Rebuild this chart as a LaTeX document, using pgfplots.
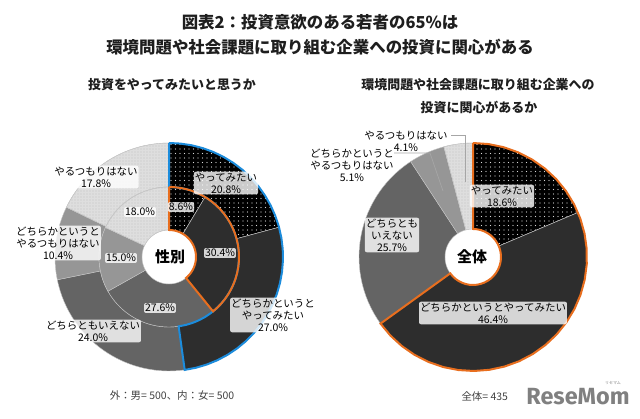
\documentclass[border=0pt]{standalone}
\usepackage{fontspec}
\setmainfont{Noto Sans CJK JP}
\newfontfamily\logofont{Fira Sans}
\usepackage{pgfplots}
\pgfplotsset{compat=1.18}
\usepackage{pgfplotstable}
\usetikzlibrary{patterns,patterns.meta}

\definecolor{cblue}{RGB}{28,140,220}
\definecolor{corange}{RGB}{232,110,30}
\definecolor{c1}{RGB}{45,45,45}
\definecolor{c2}{RGB}{100,100,100}
\definecolor{c3}{RGB}{150,150,150}
\definecolor{c4}{RGB}{222,222,222}
\definecolor{titlec}{RGB}{30,30,30}

% outer ring: male (n=500)
\pgfplotstableread{
val
20.8
27.0
24.0
10.4
17.8
}\tabMale
% inner ring: female (n=500)
\pgfplotstableread{
val
8.6
30.4
27.6
15.0
18.0
}\tabFemale
% right donut: total (n=435)
\pgfplotstableread{
val
18.6
46.4
25.7
5.1
4.1
}\tabTotal

\pgfplotsset{
  seg0/.style={fill=black, draw=gray!45, line width=0.4bp,
    postaction={pattern={Dots[distance=4.5bp,radius=0.6bp]}, pattern color=white!85!black}},
  seg1/.style={fill=c1, draw=gray!45, line width=0.4bp},
  seg2/.style={fill=c2, draw=gray!45, line width=0.4bp},
  seg3/.style={fill=c3, draw=gray!45, line width=0.4bp},
  seg4/.style={fill=c4, draw=gray!45, line width=0.4bp,
    postaction={pattern={Dots[distance=3bp,radius=0.45bp]}, pattern color=black!45}},
  olblue/.style={draw=cblue, line width=2bp, fill=none},
  olorange/.style={draw=corange, line width=2bp, fill=none},
}
\tikzset{
  lbl/.style={font=\fontsize{10.5}{12}\selectfont, align=center, fill=white,
    fill opacity=0.8, text opacity=1, inner sep=1bp, rounded corners=2bp},
}

% one annular sector: cx, cy, rin, rout, angle A, angle B, style
\newcommand\segpath[7]{%
  \addplot[#7, domain=0:4, samples=121]
   ({#1+sr(x,#3,#4)*cos(sa(x,#5,#6))},{#2+sr(x,#3,#4)*sin(sa(x,#5,#6))});
}
\newcommand\ringsum[1]{%
  \def\rtot{0}%
  \pgfplotsforeachungrouped \k in {0,1,2,3,4}{%
    \pgfplotstablegetelem{\k}{val}\of{#1}%
    \pgfmathsetmacro\rtot{\rtot+\pgfplotsretval}%
  }}
\newcommand\ring[5]{%
  \ringsum{#1}%
  \def\rcum{0}%
  \pgfplotsforeachungrouped \k in {0,1,2,3,4}{%
    \pgfplotstablegetelem{\k}{val}\of{#1}%
    \pgfmathsetmacro\rA{90-360*(\rcum/\rtot)}%
    \pgfmathsetmacro\rcum{\rcum+\pgfplotsretval}%
    \pgfmathsetmacro\rB{90-360*(\rcum/\rtot)}%
    \edef\segcmd{\noexpand\segpath{#2}{#3}{#4}{#5}{\rA}{\rB}{seg\k}}%
    \segcmd
  }}
\newcommand\outline[6]{%
  \ringsum{#1}%
  \pgfplotstablegetelem{0}{val}\of{#1}\let\vz\pgfplotsretval
  \pgfplotstablegetelem{1}{val}\of{#1}%
  \pgfmathsetmacro\rB{90-360*((\vz+\pgfplotsretval)/\rtot)}%
  \edef\segcmd{\noexpand\segpath{#2}{#3}{#4}{#5}{90}{\rB}{#6}}%
  \segcmd}

\begin{document}
\begin{tikzpicture}
\useasboundingbox (0,0) rectangle (640bp,419bp);
\begin{axis}[
  at={(0,0)}, anchor=south west,
  width=640bp, height=419bp, scale only axis,
  xmin=0, xmax=640, ymin=0, ymax=419,
  hide axis, clip=false,
  declare function={
    sa(\vq,\vA,\vB)=ifthenelse(\vq<1,\vA+(\vB-\vA)*\vq,ifthenelse(\vq<2,\vB,ifthenelse(\vq<3,\vB+(\vA-\vB)*(\vq-2),\vA)));
    sr(\vq,\vi,\vo)=ifthenelse(\vq<1,\vo,ifthenelse(\vq<2,\vo-(\vo-\vi)*(\vq-1),ifthenelse(\vq<3,\vi,\vi+(\vo-\vi)*(\vq-3))));
  },
]
% left donut
\ring{\tabMale}{169}{162}{70}{114}
\ring{\tabFemale}{169}{162}{27}{70}
\outline{\tabMale}{169}{162}{70}{114}{olblue}
\outline{\tabFemale}{169}{162}{27}{70}{olorange}
% right donut
\ring{\tabTotal}{473}{162}{28}{114}
\outline{\tabTotal}{473}{162}{28}{114}{olorange}

% leader lines
\addplot[gray!70, line width=0.7bp] coordinates {(451,284) (465,284) (465,237)};
\addplot[gray!70, line width=0.7bp] coordinates {(394,266) (430,266) (443,228)};

% titles
\node[font=\bfseries\fontsize{16.5}{18}\selectfont, text=titlec] at (320,397) {図表2：投資意欲のある若者の65\%は};
\node[font=\bfseries\fontsize{16.5}{18}\selectfont, text=titlec] at (320,372) {環境問題や社会課題に取り組む企業への投資に関心がある};
\node[font=\bfseries\fontsize{13}{15}\selectfont, text=titlec] at (172,334) {投資をやってみたいと思うか};
\node[font=\bfseries\fontsize{13}{15}\selectfont, text=titlec] at (478,334) {環境問題や社会課題に取り組む企業への};
\node[font=\bfseries\fontsize{13}{15}\selectfont, text=titlec] at (479,312) {投資に関心があるか};

% centre texts
\node[font=\bfseries\fontsize{15}{17}\selectfont] at (170,162) {性別};
\node[font=\bfseries\fontsize{15}{17}\selectfont] at (472,162) {全体};

% left labels (outer)
\node[lbl] at (226,236) {やってみたい\\20.8\%};
\node[lbl] at (273,104) {どちらかというと\\やってみたい\\27.0\%};
\node[lbl] at (93,88) {どちらともいえない\\24.0\%};
\node[lbl] at (58,176) {どちらかというと\\やるつもりはない\\10.4\%};
\node[lbl] at (96,242) {やるつもりはない\\17.8\%};
% left labels (inner)
\node[lbl] at (181,212) {8.6\%};
\node[lbl] at (220,166) {30.4\%};
\node[lbl] at (160,111) {27.6\%};
\node[lbl] at (121,161) {15.0\%};
\node[lbl] at (140,207) {18.0\%};
% right labels
\node[lbl] at (502,223) {やってみたい\\18.6\%};
\node[lbl] at (493,106) {どちらかというとやってみたい\\46.4\%};
\node[lbl] at (392,184) {どちらとも\\いえない\\25.7\%};
\node[lbl, fill opacity=0] at (406,278) {やるつもりはない\\4.1\%};
\node[lbl, fill opacity=0] at (352,254) {どちらかというと\\やるつもりはない\\5.1\%};

% footnotes
\node[font=\fontsize{10.5}{12}\selectfont, text=black!75] at (172,23) {外：男= 500、内：女= 500};
\node[font=\fontsize{10.5}{12}\selectfont, text=black!75, anchor=west] at (458,22) {全体= 435};
\node[font=\logofont\bfseries\fontsize{23.5}{24}\selectfont, text=black!50] at (578,22) {ReseMom};
\node[font=\fontsize{4}{4}\selectfont, text=black!50] at (613,36) {リセマム};
\end{axis}
\end{tikzpicture}
\end{document}
